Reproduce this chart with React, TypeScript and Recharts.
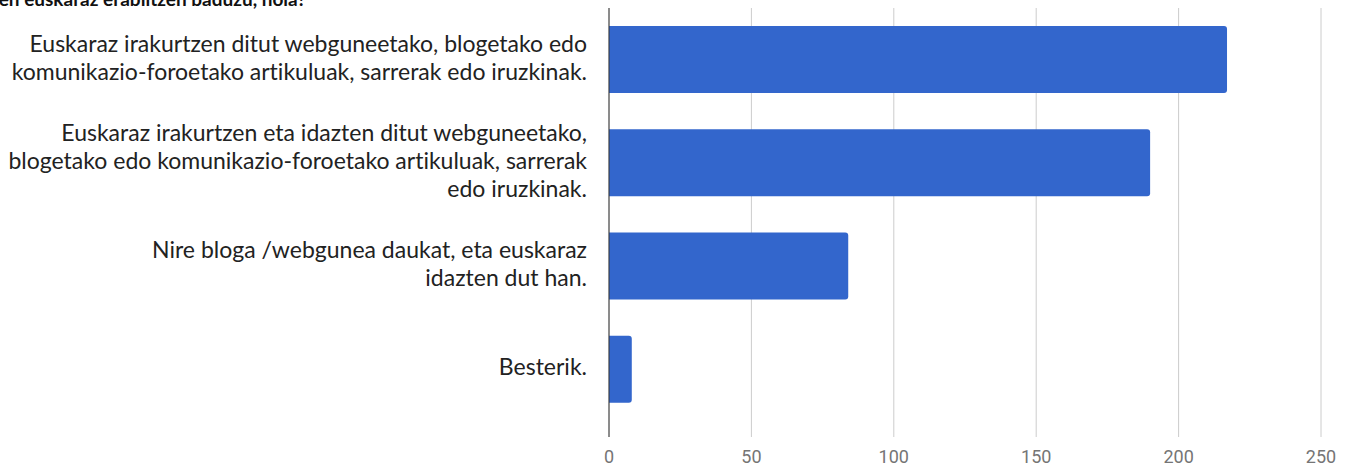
import { Bar, BarChart, CartesianGrid, ReferenceLine, XAxis, YAxis } from "recharts";

// answers (Basque), each one split the way the reference wraps it
const answerLines = [
  [
    "Euskaraz irakurtzen ditut webguneetako, blogetako edo",
    "komunikazio-foroetako artikuluak, sarrerak edo iruzkinak.",
  ],
  [
    "Euskaraz irakurtzen eta idazten ditut webguneetako,",
    "blogetako edo komunikazio-foroetako artikuluak, sarrerak",
    "edo iruzkinak.",
  ],
  ["Nire bloga /webgunea daukat, eta euskaraz", "idazten dut han."],
  ["Besterik."],
];
const answers = answerLines.map((lines) => lines.join(" "));
const counts = [217, 190, 84, 8];
const xTicks = [0, 50, 100, 150, 200, 250];

const title = "Interneten euskaraz erabiltzen baduzu, nola?";

const data = answers.map((answer, i) => ({ answer, count: counts[i] }));

const LABEL_FONT = "Lato, 'Open Sans', sans-serif";
const LINE_H = 28;

const AnswerTick = ({ x, y, payload }: any) => {
  const idx = answers.indexOf(payload.value);
  const lines = idx >= 0 ? answerLines[idx] : [String(payload.value)];
  const first = y - ((lines.length - 1) * LINE_H) / 2 + 6;
  return (
    <text
      x={x}
      y={first}
      textAnchor="end"
      fill="#222"
      fontSize={23}
      fontFamily={LABEL_FONT}
      style={{ fontVariantLigatures: "none" }}
    >
      {lines.map((line, i) => (
        <tspan key={i} x={x} y={first + i * LINE_H}>
          {line}
        </tspan>
      ))}
    </text>
  );
};

const ValueTick = ({ x, y, payload }: any) => (
  <text
    x={x}
    y={y + 18}
    textAnchor="middle"
    fill="#757575"
    fontSize={18}
    fontFamily="Roboto, sans-serif"
  >
    {payload.value}
  </text>
);

export default function App() {
  return (
    <div style={{ width: 1343, height: 460 }}>
      {/* the question sits above the frame; only its lower edge shows */}
      <div
        style={{
          position: "absolute",
          right: 1351 - 306,
          top: -11,
          lineHeight: "19px",
          whiteSpace: "nowrap",
          fontFamily: LABEL_FONT,
          fontWeight: 700,
          fontSize: 19,
          color: "#111",
        }}
      >
        {title}
      </div>
      <BarChart
        width={1343}
        height={460}
        data={data}
        layout="vertical"
        margin={{ top: 0, right: 30, left: 0, bottom: 0 }}
      >
        <CartesianGrid horizontal={false} stroke="#cccccc" />
        <XAxis
          type="number"
          domain={[0, 250]}
          ticks={xTicks}
          axisLine={false}
          tickLine={false}
          height={31}
          tick={<ValueTick />}
        />
        <YAxis
          type="category"
          dataKey="answer"
          width={601}
          axisLine={false}
          tickLine={false}
          tickSize={0}
          tickMargin={22}
          padding={{ top: 0, bottom: 16 }}
          tick={<AnswerTick />}
          interval={0}
        />
        <ReferenceLine x={0} stroke="#333333" />
        <Bar
          dataKey="count"
          fill="#3366cc"
          barSize={67}
          radius={[0, 3, 3, 0]}
          isAnimationActive={false}
        />
      </BarChart>
    </div>
  );
}
